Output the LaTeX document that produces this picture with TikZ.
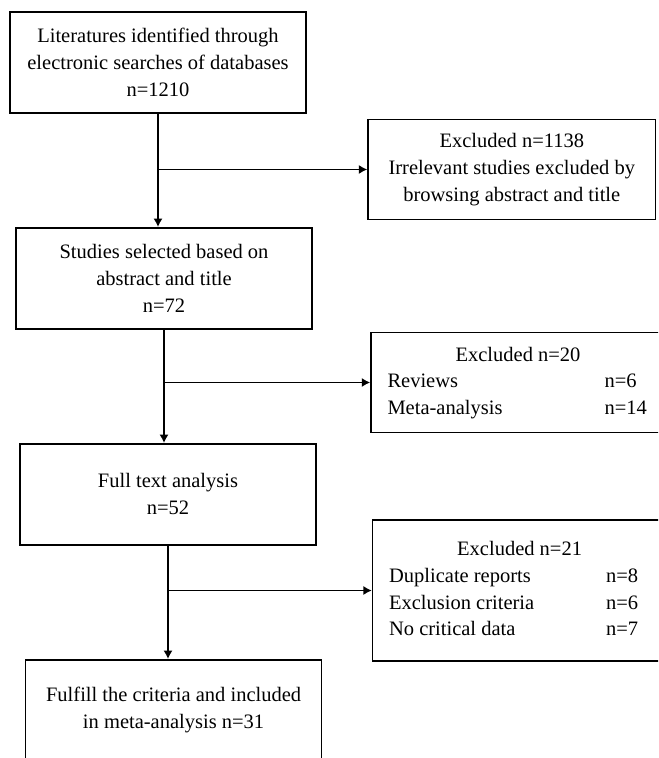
\documentclass[tikz,border=0pt]{standalone}
\usepackage{fontspec}
\setmainfont{Liberation Serif}
\usepackage{tikz}
\usetikzlibrary{arrows.meta}
\newcommand{\flowfont}{\fontsize{10.25}{13.35}\selectfont}
\tikzstyle{stage} = [rectangle, minimum width=148pt, minimum height=50.5pt, align=center, draw=black, line width=0.8pt, font=\flowfont]
\tikzstyle{excl} = [rectangle, minimum width=147pt, minimum height=50pt, align=center, draw=black, line width=0.8pt, font=\flowfont]
\tikzstyle{arrow} = [line width=0.85pt,-{Latex[length=4.2pt,width=4.6pt]}]

\begin{document}
\begin{tikzpicture}[node distance=108pt]
        \useasboundingbox (0,0) rectangle (329pt,-379pt);
        \clip (0,0) rectangle (329pt,-379pt);
        \node (ident) [stage] at (79pt,-31.15pt) {Literatures identified through\\electronic searches of databases\\n=1210};
        \node (select) [stage, below of=ident, xshift=3pt] {Studies selected based on\\abstract and title\\n=72};
        \node (full) [stage, below of=select, xshift=2pt] {Full text analysis\\n=52};
        \node (incl) [stage, below of=full, xshift=2.8pt] {Fulfill the criteria and included\\in meta-analysis n=31};
        \node (exA) [excl, right of=ident, xshift=68.9pt, yshift=-53.6pt, minimum width=143.75pt] {Excluded n=1138\\Irrelevant studies excluded by\\browsing abstract and title};
        \node (exB) [excl, right of=select, xshift=69pt, yshift=-52.1pt] {\begin{tabular}{@{}p{108.5pt}@{}p{22pt}@{}}
            \multicolumn{2}{c}{Excluded n=20}\\
            Reviews & n=6\\
            Meta-analysis & n=14
        \end{tabular}};
        \node (exC) [excl, right of=full, xshift=67.8pt, yshift=-48.1pt, minimum height=70.5pt] {\begin{tabular}{@{}p{108.5pt}@{}p{22pt}@{}}
            \multicolumn{2}{c}{Excluded n=21}\\
            Duplicate reports & n=8\\
            Exclusion criteria & n=6\\
            No critical data & n=7
        \end{tabular}};

        \draw [arrow] (ident.south) -- (ident.south |- select.north);
        \draw [arrow] (select.south) -- (select.south |- full.north);
        \draw [arrow] (full.south) -- (full.south |- incl.north);
        \draw [arrow] (ident.south |- exA.west) -- (exA.west);
        \draw [arrow] (select.south |- exB.west) -- (exB.west);
        \draw [arrow] (full.south |- exC.west) -- (exC.west);
    \end{tikzpicture}
\end{document}
